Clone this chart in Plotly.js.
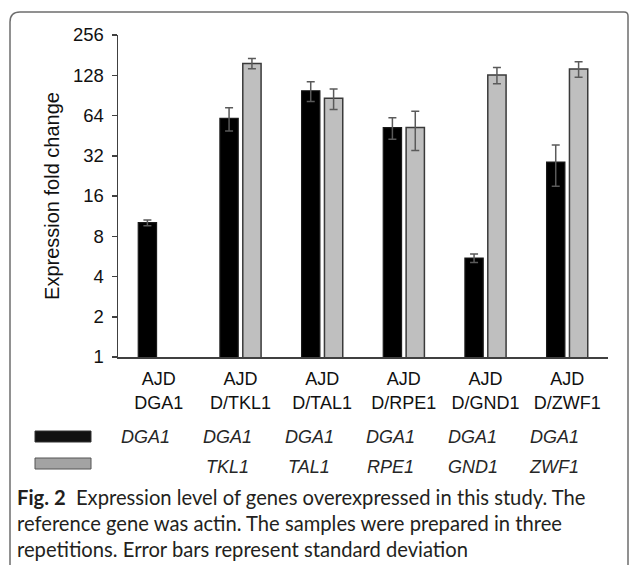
<!DOCTYPE html>
<html>
<head>
<meta charset="utf-8">
<script src="https://cdn.plot.ly/plotly-3.0.1.min.js"></script>
<style>
  html, body { margin: 0; padding: 0; background: #fff; }
  #chart { width: 630px; height: 565px; }
</style>
</head>
<body>
<div id="chart"></div>
<script>
// ---- data ----
const strains = ["AJD DGA1", "AJD D/TKL1", "AJD D/TAL1", "AJD D/RPE1", "AJD D/GND1", "AJD D/ZWF1"];
const tickLabels = ["AJD<br>DGA1", "AJD<br>D/TKL1", "AJD<br>D/TAL1", "AJD<br>D/RPE1", "AJD<br>D/GND1", "AJD<br>D/ZWF1"];
const dga1Values = [10.1, 61, 98, 52, 5.5, 28.7];
const dga1Errors = [0.5, 12, 16.5, 9.5, 0.4, 9.8];
const secondValues = [null, 157, 86, 52, 128.5, 142.5];
const secondErrors = [null, 14, 15, 17, 18, 19];
const yTicks = [1, 2, 4, 8, 16, 32, 64, 128, 256];
const row1Genes = ["DGA1", "DGA1", "DGA1", "DGA1", "DGA1", "DGA1"];
const row2Genes = ["", "TKL1", "TAL1", "RPE1", "GND1", "ZWF1"];
const captionLines = [
  "<b>Fig. 2</b>  Expression level of genes overexpressed in this study. The",
  "reference gene was actin. The samples were prepared in three",
  "repetitions. Error bars represent standard deviation"
];

// ---- layout helpers (pixel -> paper) ----
const W = 630, H = 565;
const M = { l: 118, r: 22, t: 35, b: 208 };
const PW = W - M.l - M.r, PH = H - M.t - M.b;
const px = x => (x - M.l) / PW;
const py = y => (H - M.b - y) / PH;

const traces = [
  {
    type: "bar", x: strains, y: dga1Values, name: "DGA1",
    marker: { color: "#000000", line: { color: "#1a1a1a", width: 1.2 } },
    error_y: { type: "data", array: dga1Errors, visible: true, color: "#5a5a5a", thickness: 1.5, width: 4 }
  },
  {
    type: "bar", x: strains, y: secondValues, name: "second gene",
    marker: { color: "#bfbfbf", line: { color: "#3a3a3a", width: 1.5 } },
    error_y: { type: "data", array: secondErrors, visible: true, color: "#5a5a5a", thickness: 1.5, width: 4 }
  }
];

const annotations = [];
const txtFont = { family: "Liberation Sans, Arial, sans-serif", size: 18, color: "#262626" };
strains.forEach((s, i) => {
  annotations.push({ xref: "x", yref: "paper", x: s, y: py(437), xshift: -13, text: "<i>" + row1Genes[i] + "</i>",
    showarrow: false, font: txtFont, xanchor: "center", yanchor: "middle" });
  if (row2Genes[i]) {
    annotations.push({ xref: "x", yref: "paper", x: s, y: py(467), xshift: -13, text: "<i>" + row2Genes[i] + "</i>",
      showarrow: false, font: txtFont, xanchor: "center", yanchor: "middle" });
  }
});
const capY = [497, 523, 549];
captionLines.forEach((t, i) => {
  annotations.push({ xref: "paper", yref: "paper", x: px(15), y: py(capY[i]), text: t, showarrow: false,
    xanchor: "left", yanchor: "middle", align: "left",
    font: { family: "Lato, Open Sans, sans-serif", size: 20.2, color: "#231f20" } });
});

const r = 10;
const framePath = [
  "M", px(10), py(580),
  "L", px(10), py(12 + r),
  "Q", px(10), py(12), px(10 + r), py(12),
  "L", px(624), py(12),
  "Q", px(628), py(12), px(628), py(16),
  "L", px(628), py(580)
].join(" ").replace(/ ([\d.-]+) ([\d.-]+)/g, " $1,$2");

const shapes = [
  { type: "path", xref: "paper", yref: "paper", path: framePath, line: { color: "#6e6e6e", width: 1.5 } },
  { type: "rect", xref: "paper", yref: "paper", x0: px(35), x1: px(91), y0: py(431), y1: py(442),
    fillcolor: "#111111", line: { color: "#333", width: 1 } },
  { type: "rect", xref: "paper", yref: "paper", x0: px(35), x1: px(91), y0: py(458), y1: py(469),
    fillcolor: "#a3a3a3", line: { color: "#555", width: 1 } }
];

const layout = {
  width: W, height: H,
  margin: M,
  paper_bgcolor: "#ffffff", plot_bgcolor: "#ffffff",
  showlegend: false,
  barmode: "group",
  bargap: 0.44,
  bargroupgap: 0.2,
  font: { family: "Liberation Sans, Arial, sans-serif", color: "#000" },
  xaxis: {
    type: "category",
    tickvals: strains, ticktext: tickLabels,
    showline: true, linecolor: "#404040", linewidth: 1.5,
    ticks: "", showgrid: false, zeroline: false,
    tickfont: { size: 18, color: "#111" },
    ticklabelstandoff: 5,
    fixedrange: true
  },
  yaxis: {
    type: "log",
    range: [0, Math.log10(256)],
    tickvals: yTicks, ticktext: yTicks.map(String),
    ticks: "outside", ticklen: 5, tickwidth: 1.5, tickcolor: "#404040",
    showline: true, linecolor: "#404040", linewidth: 1.5,
    showgrid: false, zeroline: false,
    tickfont: { size: 18.5, color: "#111" },
    ticklabelstandoff: 4,
    title: { text: "Expression fold change", font: { size: 20, color: "#111" }, standoff: 8 },
    fixedrange: true
  },
  annotations: annotations,
  shapes: shapes
};

Plotly.newPlot("chart", traces, layout, { staticPlot: true, displayModeBar: false });
</script>
</body>
</html>
